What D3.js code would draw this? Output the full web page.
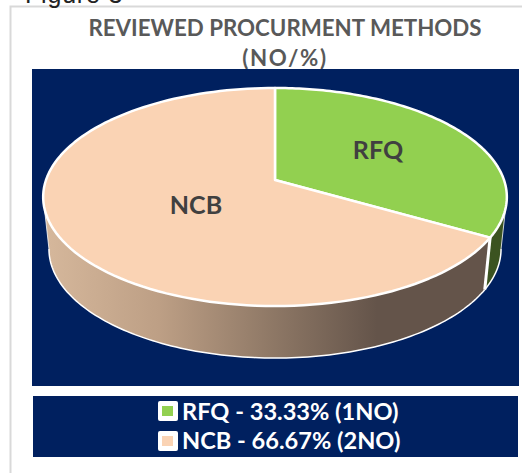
<!DOCTYPE html>
<html>
<head>
<meta charset="utf-8">
<script src="https://cdnjs.cloudflare.com/ajax/libs/d3/7.8.5/d3.min.js"></script>
<style>html,body{margin:0;padding:0;background:#fff;overflow:hidden}svg{display:block}</style>
</head>
<body>
<svg id="c" width="522" height="473"></svg>
<script>
const categories = ["RFQ", "NCB"];
const shares = [33.33, 66.67];
const counts = [1, 2];
const sliceColors = ["#92d050", "#fad3b4"];
const chartTitle = ["REVIEWED PROCURMENT METHODS", "(NO/%)"];
const caption = "Figure 3";

const svg = d3.select("#c");
const F = "Lato, Carlito, sans-serif";
const navy = "#00205f";

// frame
svg.append("rect").attr("x",10.5).attr("y",6.5).attr("width",530).attr("height",480)
  .attr("fill","#fff").attr("stroke","#d9d9d9").attr("stroke-width",2);
svg.append("text").attr("x",25).attr("y",3).attr("font-family","Liberation Sans, sans-serif")
  .attr("font-size",25).attr("letter-spacing",0.8).attr("fill","#222").text(caption);

svg.selectAll("text.title").data(chartTitle).join("text").attr("class","title")
  .attr("x",285).attr("y",(d,i)=>36+i*30).attr("text-anchor","middle")
  .attr("letter-spacing",(d,i)=>i?1.6:0)
  .attr("font-family",F).attr("font-weight",700).attr("font-size",22.3).attr("fill","#595959").text(d=>d);

// plot + legend panels
svg.append("rect").attr("x",32).attr("y",69).attr("width",487).attr("height",317).attr("fill",navy);
svg.append("rect").attr("x",33).attr("y",396).attr("width",485).attr("height",61).attr("fill",navy);

// perspective projection of the pie disc
const cx=275, cy=180, R=229, persp=-0.156, tilt=78.3, depth=52, shrink=0.975;
const upper = a => { const u=Math.sin(a), v=-Math.cos(a), w=1+persp*v;
  return [cx+R*u/w, (cy+tilt*v)/w]; };
const lower = a => { const p=upper(a); return [cx+(p[0]-cx)*shrink, p[1]+depth]; };
const line = d3.line();
const samples = (a0,a1,f) => d3.range(0,121).map(i=>f(a0+(a1-a0)*i/120));

const arcs = d3.pie().sort(null).value(d=>d)(shares);

const defs = svg.append("defs");
const grad = defs.append("linearGradient").attr("id","side").attr("gradientUnits","userSpaceOnUse")
  .attr("x1",43).attr("x2",507).attr("y1",0).attr("y2",0);
[[0,"#d6b89c"],[0.25,"#bd9f85"],[0.5,"#8d7765"],[0.72,"#64544a"],[1,"#64544a"]].forEach(s=>
  grad.append("stop").attr("offset",s[0]).attr("stop-color",s[1]));

const sideColor = ["#3b5320","url(#side)"];
const edge = "#fff";

// outer walls: run between the widest points of the outline
const wallStart = Math.acos(persp), wallEnd = 2*Math.PI - wallStart;
arcs.forEach((d,i)=>{
  const a0=Math.max(d.startAngle,wallStart), a1=Math.min(d.endAngle,wallEnd);
  const pts = samples(a0,a1,upper).concat(samples(a0,a1,lower).reverse());
  svg.append("path").attr("d",line(pts)+"Z").attr("fill",sideColor[i]);
  svg.append("path").attr("d",line(samples(a0,a1,lower))).attr("fill","none").attr("stroke",edge).attr("stroke-width",1.5);
});
// radial wall edge between the slices
const seam = arcs[0].endAngle;
svg.append("path").attr("d",line([upper(seam),lower(seam)])).attr("stroke",edge).attr("stroke-width",3).attr("fill","none");
[wallStart,wallEnd].forEach(a=>svg.append("path").attr("d",line([upper(a),lower(a)]))
  .attr("stroke",edge).attr("stroke-width",0.8).attr("fill","none"));

// top faces
arcs.forEach((d,i)=>{
  const pts=[[cx,cy]].concat(samples(d.startAngle,d.endAngle,upper));
  svg.append("path").attr("d",line(pts)+"Z").attr("fill",sliceColors[i])
    .attr("stroke",edge).attr("stroke-width",2.5).attr("stroke-linejoin","round");
});

// slice labels
const labelAt = [[378,150],[196,205]];
svg.selectAll("text.lab").data(categories).join("text").attr("class","lab")
  .attr("x",(d,i)=>labelAt[i][0]).attr("y",(d,i)=>labelAt[i][1]).attr("dy","0.35em")
  .attr("text-anchor","middle").attr("font-family",F).attr("font-weight",700)
  .attr("font-size",25).attr("fill","#404040").text(d=>d);

// legend
const rows = categories.map((c,i)=>`${c} - ${shares[i].toFixed(2)}% (${counts[i]}NO)`);
const leg = svg.selectAll("g.leg").data(rows).join("g").attr("class","leg")
  .attr("transform",(d,i)=>`translate(158,${403+i*30})`);
leg.append("rect").attr("width",20).attr("height",20).attr("y",-2).attr("rx",2).attr("fill","#fff");
leg.append("rect").attr("x",4).attr("y",3).attr("width",11).attr("height",10).attr("fill",(d,i)=>sliceColors[i]);
leg.append("text").attr("x",24).attr("y",(d,i)=>8-i).attr("dy","0.36em").attr("font-family",F)
  .attr("font-weight",700).attr("font-size",23.6).attr("fill","#fff").text(d=>d);
</script>
</body>
</html>
